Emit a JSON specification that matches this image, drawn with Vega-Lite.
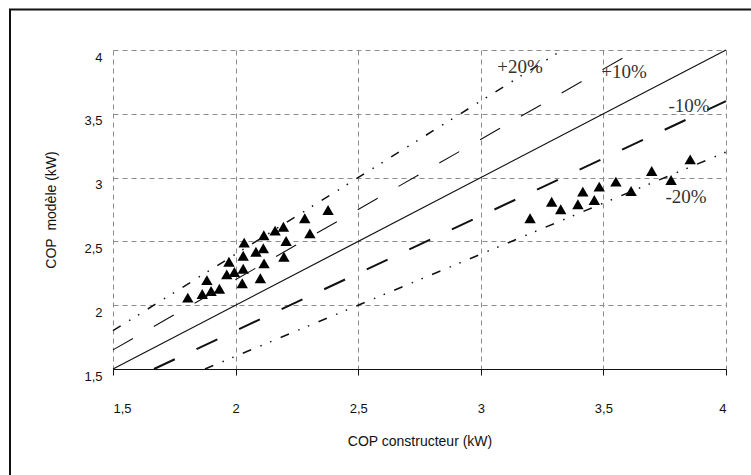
{
  "$schema": "https://vega.github.io/schema/vega-lite/v6.json",
  "autosize": {"type": "none"},
  "width": 613,
  "height": 319,
  "padding": {"left": 113, "top": 50, "right": 25, "bottom": 106},
  "background": "white",
  "config": {
    "view": {"stroke": null},
    "font": "Liberation Sans"
  },
  "datasets": {
    "points": [
      {"x": 1.805, "y": 2.059}, {"x": 1.864, "y": 2.088}, {"x": 1.900, "y": 2.111}, {"x": 1.934, "y": 2.129},
      {"x": 1.883, "y": 2.197}, {"x": 1.964, "y": 2.242}, {"x": 1.995, "y": 2.260}, {"x": 1.973, "y": 2.341},
      {"x": 2.027, "y": 2.172}, {"x": 2.031, "y": 2.286}, {"x": 2.031, "y": 2.388}, {"x": 2.035, "y": 2.490},
      {"x": 2.083, "y": 2.419}, {"x": 2.113, "y": 2.446}, {"x": 2.116, "y": 2.328}, {"x": 2.101, "y": 2.211},
      {"x": 2.115, "y": 2.548}, {"x": 2.161, "y": 2.584}, {"x": 2.195, "y": 2.615}, {"x": 2.206, "y": 2.503},
      {"x": 2.197, "y": 2.380}, {"x": 2.282, "y": 2.681}, {"x": 2.303, "y": 2.563}, {"x": 2.377, "y": 2.746},
      {"x": 3.201, "y": 2.681}, {"x": 3.289, "y": 2.811}, {"x": 3.326, "y": 2.752}, {"x": 3.396, "y": 2.791},
      {"x": 3.416, "y": 2.890}, {"x": 3.463, "y": 2.824}, {"x": 3.483, "y": 2.929}, {"x": 3.551, "y": 2.968},
      {"x": 3.613, "y": 2.895}, {"x": 3.697, "y": 3.052}, {"x": 3.776, "y": 2.981}, {"x": 3.854, "y": 3.143}
    ],
    "lines": [
      {"s": "y=x", "x": 1.5, "y": 1.5}, {"s": "y=x", "x": 4.0, "y": 4.0},
      {"s": "+10%", "x": 1.5, "y": 1.65}, {"s": "+10%", "x": 3.636, "y": 4.0},
      {"s": "-10%", "x": 1.667, "y": 1.5}, {"s": "-10%", "x": 4.0, "y": 3.6},
      {"s": "+20%", "x": 1.5, "y": 1.8}, {"s": "+20%", "x": 3.333, "y": 4.0},
      {"s": "-20%", "x": 1.875, "y": 1.5}, {"s": "-20%", "x": 4.0, "y": 3.2}
    ],
    "labels": [
      {"t": "+20%", "x": 3.160, "y": 3.867},
      {"t": "+10%", "x": 3.584, "y": 3.828},
      {"t": "-10%", "x": 3.849, "y": 3.561},
      {"t": "-20%", "x": 3.837, "y": 2.848}
    ],
    "frame": [{"f": 1}]
  },
  "layer": [
    {
      "data": {"name": "frame"},
      "mark": {"type": "rect", "fill": null, "stroke": "#111", "strokeWidth": 2},
      "encoding": {
        "x": {"value": -103},
        "x2": {"value": 900},
        "y": {"value": -40.5},
        "y2": {"value": 700}
      }
    },
    {
      "data": {"name": "points"},
      "mark": {"type": "point", "shape": "triangle-up", "filled": true, "color": "black", "size": 130, "opacity": 1},
      "encoding": {
        "x": {
          "field": "x", "type": "quantitative",
          "scale": {"domain": [1.5, 4], "nice": false, "zero": false},
          "axis": {
            "title": "COP constructeur (kW)",
            "values": [1.5, 2, 2.5, 3, 3.5, 4],
            "labelExpr": "replace(format(datum.value, '.1~f'), '.', ',')",
            "labelFontSize": 13, "labelColor": "#111", "labelPadding": 27,
            "tickSize": 6, "tickColor": "#111", "domainColor": "#111", "domainWidth": 1.2,
            "grid": true, "gridColor": "#8c8c8c", "gridDash": [5, 4], "gridWidth": 1,
            "titleFontSize": 14, "titleFontWeight": "normal", "titleColor": "#111", "titlePadding": 19
          }
        },
        "y": {
          "field": "y", "type": "quantitative",
          "scale": {"domain": [1.5, 4], "nice": false, "zero": false},
          "axis": {
            "title": "COP\u00a0 modèle (kW)",
            "values": [1.5, 2, 2.5, 3, 3.5, 4],
            "labelExpr": "replace(format(datum.value, '.1~f'), '.', ',')",
            "labelFontSize": 13, "labelColor": "#111", "labelPadding": 11, "labelOffset": 7,
            "ticks": false, "domain": false,
            "grid": true, "gridColor": "#8c8c8c", "gridDash": [5, 4], "gridWidth": 1,
            "titleFontSize": 14, "titleFontWeight": "normal", "titleColor": "#111", "titlePadding": 25
          }
        }
      }
    },
    {
      "data": {"name": "lines"},
      "transform": [{"filter": "datum.s === 'y=x'"}],
      "mark": {"type": "line", "color": "#111", "strokeWidth": 1.2},
      "encoding": {"x": {"field": "x", "type": "quantitative"}, "y": {"field": "y", "type": "quantitative"}}
    },
    {
      "data": {"name": "lines"},
      "transform": [{"filter": "datum.s === '+10%'"}],
      "mark": {"type": "line", "color": "#111", "strokeWidth": 1.1, "strokeDash": [23, 24]},
      "encoding": {"x": {"field": "x", "type": "quantitative"}, "y": {"field": "y", "type": "quantitative"}}
    },
    {
      "data": {"name": "lines"},
      "transform": [{"filter": "datum.s === '-10%'"}],
      "mark": {"type": "line", "color": "#111", "strokeWidth": 2, "strokeDash": [23, 24]},
      "encoding": {"x": {"field": "x", "type": "quantitative"}, "y": {"field": "y", "type": "quantitative"}}
    },
    {
      "data": {"name": "lines"},
      "transform": [{"filter": "datum.s === '+20%' || datum.s === '-20%'"}],
      "mark": {"type": "line", "color": "#111", "strokeWidth": 1.5, "strokeDash": [9, 10, 1.5, 9, 1.5, 10]},
      "encoding": {
        "x": {"field": "x", "type": "quantitative"},
        "y": {"field": "y", "type": "quantitative"},
        "detail": {"field": "s"}
      }
    },
    {
      "data": {"name": "labels"},
      "mark": {"type": "text", "font": "Liberation Serif", "fontSize": 19, "color": "#333"},
      "encoding": {
        "x": {"field": "x", "type": "quantitative"},
        "y": {"field": "y", "type": "quantitative"},
        "text": {"field": "t"}
      }
    }
  ]
}
